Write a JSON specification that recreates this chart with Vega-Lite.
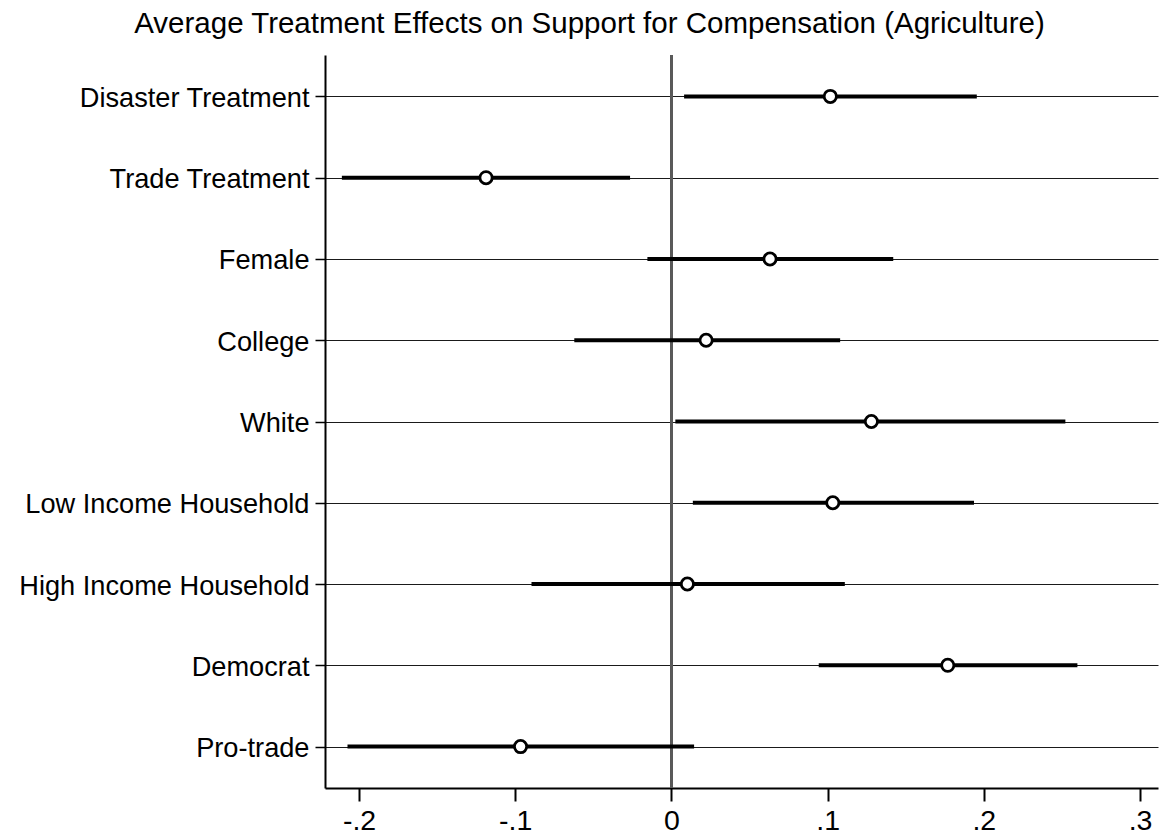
{
  "$schema": "https://vega.github.io/schema/vega-lite/v6.json",
  "width": 833,
  "height": 733,
  "autosize": "none",
  "padding": {"left": 325, "top": 55, "right": 18, "bottom": 50},
  "background": "white",
  "config": {
    "view": {"stroke": null},
    "font": "Liberation Sans",
    "axis": {"labelFont": "Liberation Sans", "labelColor": "black", "domainColor": "black", "tickColor": "black", "title": null},
    "axisX": {"grid": false, "domainWidth": 2, "tickWidth": 2, "tickSize": 13, "labelFontSize": 28.5, "labelPadding": 5},
    "axisY": {"grid": true, "gridColor": "#1a1a1a", "gridWidth": 1, "domainWidth": 2, "tickWidth": 1.5, "tickSize": 10, "labelFontSize": 27.2, "labelPadding": 6, "labelLimit": 0, "labelOffset": 2}
  },
  "title": {
    "text": "Average Treatment Effects on Support for Compensation (Agriculture)",
    "font": "Liberation Sans",
    "fontSize": 29.5,
    "fontWeight": "normal",
    "color": "black",
    "anchor": "middle",
    "dx": -152,
    "offset": 15
  },
  "data": {
    "values": [
      {"term": "Disaster Treatment", "est": 0.1017, "lo": 0.0081, "hi": 0.1955},
      {"term": "Trade Treatment", "est": -0.1187, "lo": -0.211, "hi": -0.0265},
      {"term": "Female", "est": 0.0631, "lo": -0.0154, "hi": 0.142},
      {"term": "College", "est": 0.0222, "lo": -0.0622, "hi": 0.108},
      {"term": "White", "est": 0.128, "lo": 0.0025, "hi": 0.2522},
      {"term": "Low Income Household", "est": 0.1033, "lo": 0.0137, "hi": 0.1937},
      {"term": "High Income Household", "est": 0.0102, "lo": -0.0896, "hi": 0.111},
      {"term": "Democrat", "est": 0.1769, "lo": 0.0943, "hi": 0.2599},
      {"term": "Pro-trade", "est": -0.0966, "lo": -0.2074, "hi": 0.0145}
    ]
  },
  "layer": [
    {
      "mark": {"type": "rule", "color": "#5a5a5a", "strokeWidth": 2},
      "encoding": {
        "x": {"datum": 0, "type": "quantitative", "title": null}
      }
    },
    {
      "mark": {"type": "rule", "color": "black", "strokeWidth": 4},
      "encoding": {
        "y": {
          "field": "term", "type": "nominal", "title": null,
          "sort": ["Disaster Treatment", "Trade Treatment", "Female", "College", "White", "Low Income Household", "High Income Household", "Democrat", "Pro-trade"],
          "scale": {"type": "point", "padding": 0.51}
        },
        "x": {
          "field": "lo", "type": "quantitative", "title": null,
          "scale": {"domain": [-0.2218, 0.3115], "nice": false, "zero": false},
          "axis": {"values": [-0.2, -0.1, 0, 0.1, 0.2, 0.3], "labelExpr": "datum.value == 0 ? '0' : (datum.value < 0 ? '-' : '') + '.' + toString(round(abs(datum.value) * 10))"}
        },
        "x2": {"field": "hi"}
      }
    },
    {
      "mark": {"type": "point", "shape": "circle", "filled": true, "fill": "white", "stroke": "black", "strokeWidth": 2.8, "size": 150, "opacity": 1},
      "encoding": {
        "y": {
          "field": "term", "type": "nominal", "title": null,
          "sort": ["Disaster Treatment", "Trade Treatment", "Female", "College", "White", "Low Income Household", "High Income Household", "Democrat", "Pro-trade"]
        },
        "x": {"field": "est", "type": "quantitative", "title": null}
      }
    }
  ]
}
